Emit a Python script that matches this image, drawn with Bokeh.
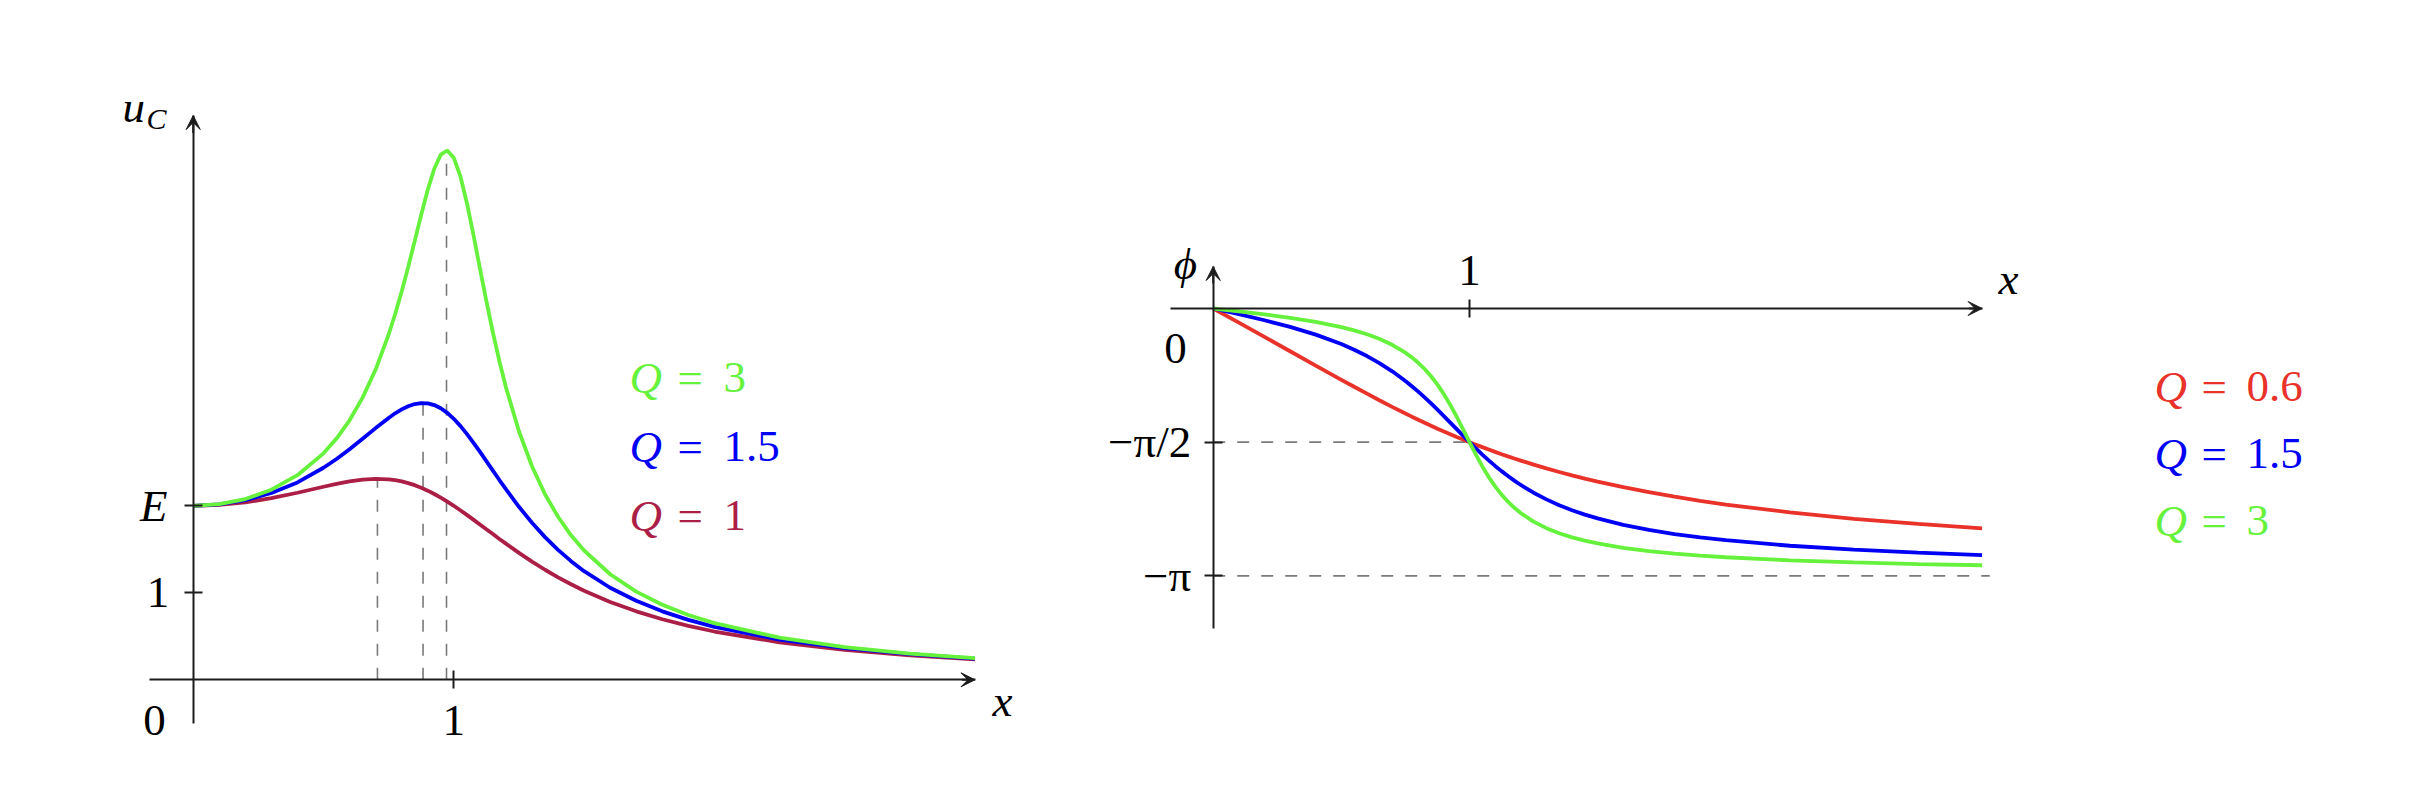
import math
from bokeh.plotting import figure
from bokeh.models import LinearAxis, FixedTicker, Arrow, VeeHead, Range1d, Label
from bokeh.layouts import row
from bokeh.embed import file_html
from bokeh.resources import INLINE

# ---------------- data ----------------
X = [0, 0.1, 0.2, 0.3, 0.4, 0.5, 0.55, 0.6, 0.65, 0.7, 0.75, 0.775, 0.8, 0.825,
     0.85, 0.875, 0.9, 0.925, 0.95, 0.975, 1.0, 1.025, 1.05, 1.075, 1.1, 1.125,
     1.15, 1.175, 1.2, 1.25, 1.3, 1.35, 1.4, 1.45, 1.5, 1.6, 1.7, 1.8, 1.9, 2.0,
     2.25, 2.5, 2.75, 3.0]

# left chart: u_C (E = 2)
U_Q3 = [2.000, 2.019, 2.078, 2.185, 2.352, 2.603, 2.773, 2.983, 3.243, 3.566,
        3.969, 4.205, 4.464, 4.745, 5.043, 5.345, 5.632, 5.874, 6.036, 6.084,
        6.000, 5.790, 5.484, 5.119, 4.733, 4.352, 3.992, 3.662, 3.363, 2.857,
        2.455, 2.133, 1.874, 1.661, 1.486, 1.213, 1.014, 0.863, 0.745, 0.651,
        0.484, 0.376, 0.302, 0.248]
U_Q15 = [2.000, 2.016, 2.064, 2.147, 2.269, 2.437, 2.538, 2.650, 2.770, 2.893,
         3.010, 3.063, 3.108, 3.145, 3.170, 3.181, 3.178, 3.158, 3.121, 3.068,
         3.000, 2.919, 2.827, 2.727, 2.622, 2.514, 2.405, 2.296, 2.191, 1.989,
         1.805, 1.640, 1.494, 1.364, 1.249, 1.058, 0.908, 0.787, 0.689, 0.609,
         0.462, 0.363, 0.294, 0.243]
U_Q1 = [2.000, 2.010, 2.040, 2.087, 2.150, 2.219, 2.252, 2.280, 2.300, 2.309,
        2.303, 2.294, 2.280, 2.261, 2.237, 2.208, 2.174, 2.136, 2.094, 2.049,
        2.000, 1.949, 1.896, 1.841, 1.786, 1.730, 1.675, 1.619, 1.565, 1.459,
        1.359, 1.265, 1.178, 1.098, 1.024, 0.895, 0.787, 0.696, 0.620, 0.555,
        0.431, 0.344, 0.281, 0.234]
PEAK_X = [0.707, 0.882, 0.972]
PEAK_Y = [2.309, 3.182, 6.085]
E_LEVEL = 2
U_TICKS = [1, 2]
LEFT_Q = ["3", "1.5", "1"]

# right chart: phase phi (rad)
PH_Q06 = [0.000, -0.167, -0.334, -0.502, -0.671, -0.838, -0.920, -1.001, -1.081,
          -1.159, -1.234, -1.271, -1.307, -1.343, -1.377, -1.412, -1.445, -1.477,
          -1.509, -1.540, -1.571, -1.600, -1.629, -1.657, -1.685, -1.712, -1.738,
          -1.763, -1.787, -1.835, -1.879, -1.921, -1.961, -1.999, -2.034, -2.100,
          -2.159, -2.212, -2.260, -2.304, -2.396, -2.471, -2.532, -2.583]
PH_Q15 = [0.000, -0.067, -0.138, -0.216, -0.307, -0.418, -0.484, -0.559, -0.644,
          -0.741, -0.852, -0.913, -0.977, -1.045, -1.115, -1.189, -1.264, -1.341,
          -1.418, -1.495, -1.571, -1.645, -1.716, -1.785, -1.850, -1.911, -1.969,
          -2.023, -2.074, -2.165, -2.243, -2.311, -2.370, -2.422, -2.467, -2.542,
          -2.601, -2.650, -2.690, -2.723, -2.788, -2.834, -2.869, -2.897]
PH_Q3 = [0.000, -0.034, -0.069, -0.109, -0.157, -0.219, -0.257, -0.303, -0.359,
         -0.429, -0.519, -0.574, -0.638, -0.711, -0.796, -0.894, -1.006, -1.133,
         -1.272, -1.420, -1.571, -1.718, -1.856, -1.981, -2.091, -2.187, -2.270,
         -2.342, -2.404, -2.504, -2.581, -2.641, -2.689, -2.728, -2.761, -2.812,
         -2.850, -2.880, -2.904, -2.923, -2.959, -2.984, -3.003, -3.017]
PHASE_TICKS = [-math.pi / 2, -math.pi]
PHASE_TICK_LABELS = ["\u2212\u03c0/2", "\u2212\u03c0"]
PHASE_DASH_END = [1.0, 3.03]
RIGHT_Q = ["0.6", "1.5", "3"]

for s in (U_Q3, U_Q15, U_Q1, PH_Q06, PH_Q15, PH_Q3):
    assert len(s) == len(X)

# ---------------- styles ----------------
GREEN = "#66f23c"
BLUE = "#0000f5"
PURPLE = "#ab1f47"
RED = "#e8322a"
AX = "#1c1c1c"
DASH = "#7a7a7a"
FONT = "Liberation Serif, DejaVu Serif, serif"
FS = "45px"
LW = 3.8
AW = 2.0

PAGE_TOP, PAGE_BOTTOM = 0, 776
L_LEFT, L_RIGHT = 0, 1100
R_LEFT, R_RIGHT = 1100, 2420

# pixel mapping of the two coordinate systems
L_X0, L_XS, L_Y0, L_YS = 192.7, 260.6, 679.3, 87.0
R_X0, R_XS, R_Y0, R_YS = 1212.7, 256.3, 308.0, 85.1

L_XAXIS = (-0.1665, 3.0)
L_YAXIS = (-0.499, 6.486)
R_XAXIS = (-0.1666, 3.0)
R_YAXIS = (-3.766, 0.4935)


def make_fig(left, right, x0, xs, y0, ys):
    xr = Range1d((left - x0) / xs, (right - x0) / xs)
    yr = Range1d((y0 - PAGE_BOTTOM) / ys, (y0 - PAGE_TOP) / ys)
    p = figure(width=right - left, height=PAGE_BOTTOM - PAGE_TOP,
               x_range=xr, y_range=yr, x_axis_type=None, y_axis_type=None,
               output_backend="svg", toolbar_location=None, min_border=0,
               outline_line_color=None, background_fill_color="white",
               border_fill_color="white")
    return p


def style_axis(ax, standoff):
    ax.axis_line_color = AX
    ax.axis_line_width = AW
    ax.major_tick_line_color = AX
    ax.major_tick_line_width = AW
    ax.major_tick_in = 9
    ax.major_tick_out = 9
    ax.minor_tick_line_color = None
    ax.major_label_text_font = FONT
    ax.major_label_text_font_size = FS
    ax.major_label_text_color = "black"
    ax.major_label_standoff = standoff


def add_text(p, left, page_x, page_y, text, style="normal", size=FS,
             align="left", color="black"):
    p.add_layout(Label(x=page_x - left, y=PAGE_BOTTOM - page_y,
                       x_units="screen", y_units="screen", text=text,
                       text_font=FONT, text_font_size=size,
                       text_font_style=style, text_align=align,
                       text_baseline="middle", text_color=color))


def arrow_head(p, xs, ys, xe, ye):
    p.add_layout(Arrow(end=VeeHead(size=14, fill_color=AX, line_color=AX, line_width=1),
                       x_start=xs, y_start=ys, x_end=xe, y_end=ye,
                       line_color=AX, line_width=AW))


# ================= left chart =================
p1 = make_fig(L_LEFT, L_RIGHT, L_X0, L_XS, L_Y0, L_YS)

xa = LinearAxis(fixed_location=0, ticker=FixedTicker(ticks=[1]), bounds=L_XAXIS)
style_axis(xa, 17)
p1.add_layout(xa, "below")
ya = LinearAxis(fixed_location=0, ticker=FixedTicker(ticks=U_TICKS), bounds=L_YAXIS,
                major_label_overrides={1: "1", 2: ""})
style_axis(ya, 15)
p1.add_layout(ya, "left")
arrow_head(p1, L_XAXIS[1] - 0.05, 0, L_XAXIS[1], 0)
arrow_head(p1, 0, L_YAXIS[1] - 0.2, 0, L_YAXIS[1])

p1.segment(x0=PEAK_X, y0=[0] * len(PEAK_X), x1=PEAK_X, y1=PEAK_Y,
           line_color=DASH, line_width=1.6, line_dash="12 12")

p1.line(X, U_Q1, line_color=PURPLE, line_width=LW)
p1.line(X, U_Q15, line_color=BLUE, line_width=LW)
p1.line(X, U_Q3, line_color=GREEN, line_width=LW)

# axis texts (page positions of the glyph centres)
add_text(p1, L_LEFT, 122, 106, "u", style="italic")
add_text(p1, L_LEFT, 146, 118, "C", style="italic", size="30px")
add_text(p1, L_LEFT, 1002, 700, "x", style="italic", align="center")
add_text(p1, L_LEFT, 154, 720, "0", align="center")
add_text(p1, L_LEFT, 167, 505, "E", style="italic", align="right")

# series labels
for q, col, cy in zip(LEFT_Q, [GREEN, BLUE, PURPLE], [377, 446, 515]):
    add_text(p1, L_LEFT, 629, cy, "Q", style="italic", color=col)
    add_text(p1, L_LEFT, 677, cy, "=", color=col)
    add_text(p1, L_LEFT, 723, cy, q, color=col)

# ================= right chart =================
p2 = make_fig(R_LEFT, R_RIGHT, R_X0, R_XS, R_Y0, R_YS)

xb = LinearAxis(fixed_location=0, ticker=FixedTicker(ticks=[1]), bounds=R_XAXIS)
style_axis(xb, 15)
p2.add_layout(xb, "above")
yb = LinearAxis(fixed_location=0, ticker=FixedTicker(ticks=PHASE_TICKS), bounds=R_YAXIS,
                major_label_overrides=dict(zip(PHASE_TICKS, PHASE_TICK_LABELS)))
style_axis(yb, 13)
p2.add_layout(yb, "left")
arrow_head(p2, R_XAXIS[1] - 0.05, 0, R_XAXIS[1], 0)
arrow_head(p2, 0, R_YAXIS[1] - 0.2, 0, R_YAXIS[1])

p2.segment(x0=[0] * len(PHASE_TICKS), y0=PHASE_TICKS, x1=PHASE_DASH_END, y1=PHASE_TICKS,
           line_color=DASH, line_width=1.6, line_dash="12 12")

p2.line(X, PH_Q06, line_color=RED, line_width=LW)
p2.line(X, PH_Q15, line_color=BLUE, line_width=LW)
p2.line(X, PH_Q3, line_color=GREEN, line_width=LW)

add_text(p2, R_LEFT, 1185, 263, "\u03d5", style="italic", align="center")
add_text(p2, R_LEFT, 2008, 278, "x", style="italic", align="center")
add_text(p2, R_LEFT, 1175, 348, "0", align="center")

for q, col, cy in zip(RIGHT_Q, [RED, BLUE, GREEN], [386, 453, 520]):
    add_text(p2, R_LEFT, 2154, cy, "Q", style="italic", color=col)
    add_text(p2, R_LEFT, 2201, cy, "=", color=col)
    add_text(p2, R_LEFT, 2246, cy, q, color=col)

layout = row(p1, p2)
open("out.html", "w").write(file_html(layout, INLINE))
